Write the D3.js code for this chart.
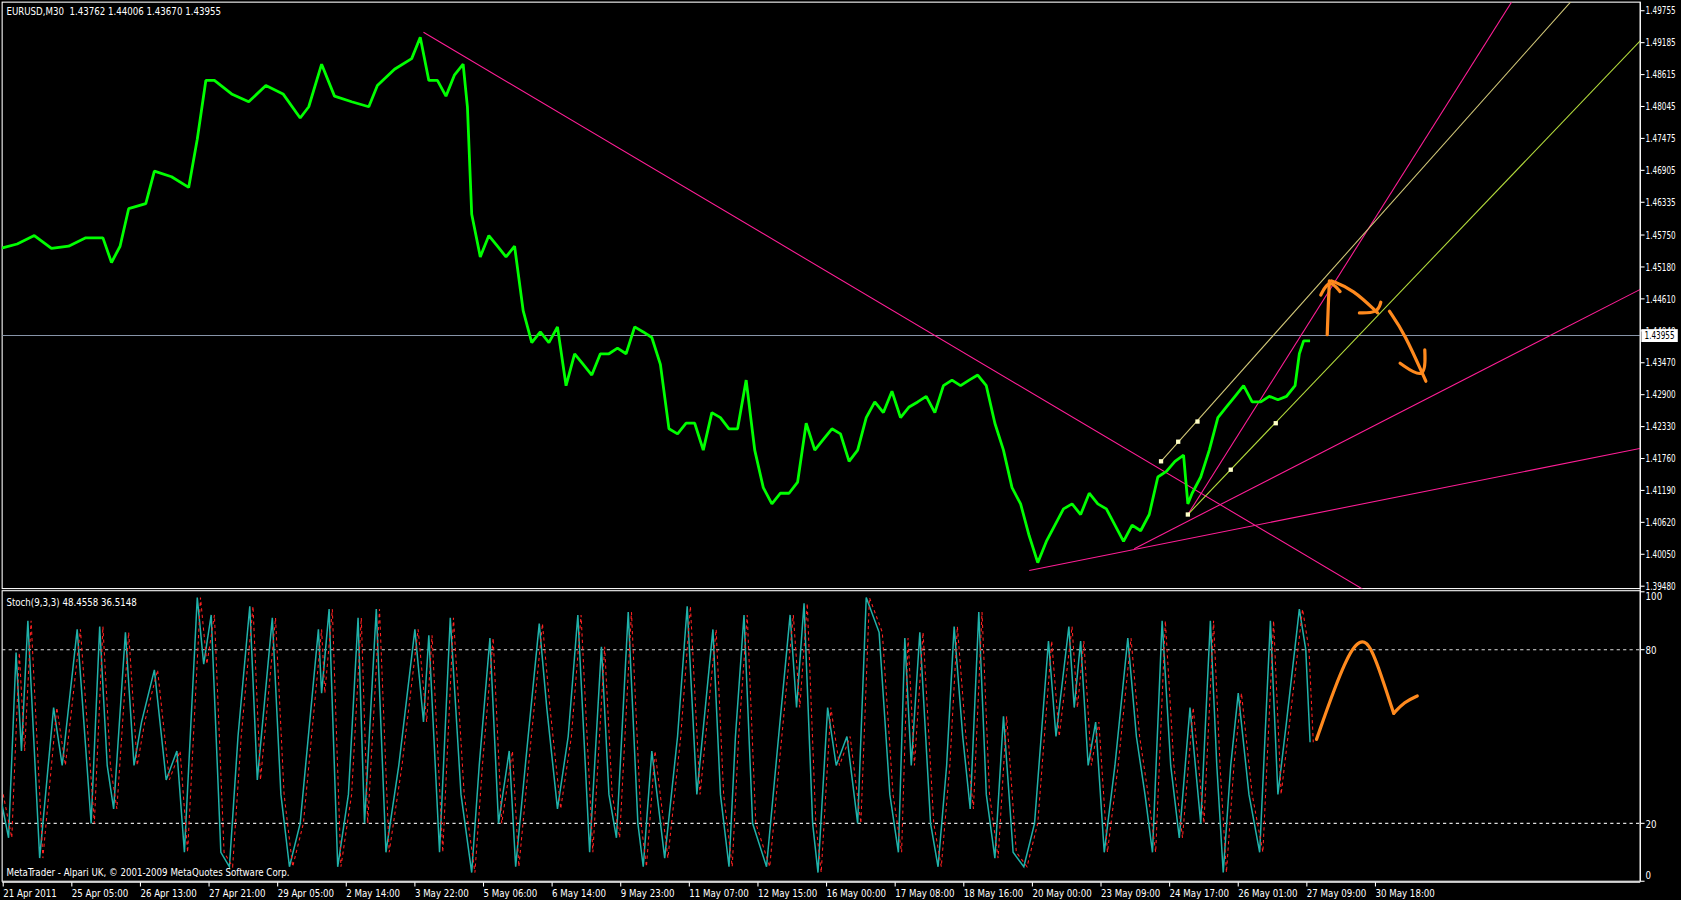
<!DOCTYPE html>
<html><head><meta charset="utf-8">
<script src="https://cdn.jsdelivr.net/npm/d3@7"></script>
<style>html,body{margin:0;background:#000;overflow:hidden}</style>
</head><body>
<svg id="c" width="1681" height="900" viewBox="0 0 1568 839.5"></svg>
<script>
// ---- data ----
const priceBars = [0,16,32,48,64,80,96,104,112,120,136,144,160,176,184,192,200,216,232,248,264,280,288,300,312,328,344,352,368,384,392,400,408,416,424,432,436,440,448,456,464,472,480,488,496,504,512,520,528,536,544,552,560,568,576,584,592,600,608,616,624,632,640,648,656,664,672,680,688,696,704,712,720,728,736,744,752,760,768,776,784,792,800,808,816,824,832,840,848,856,864,872,880,888,896,904,912,920,928,936,944,952,960,968,976,984,992,1000,1008,1016,1024,1032,1040,1048,1056,1064,1072,1080,1088,1096,1104,1108,1112,1120,1128,1136,1144,1152,1160,1168,1176,1184,1192,1200,1208,1212,1216,1222];
const priceClose = [1.4551,1.4559,1.4574,1.4551,1.4555,1.4570,1.4570,1.4526,1.4555,1.4622,1.4631,1.4689,1.4679,1.4660,1.4746,1.4851,1.4851,1.4827,1.4813,1.4842,1.4827,1.4784,1.4804,1.4880,1.4823,1.4813,1.4804,1.4842,1.4871,1.4890,1.4928,1.4851,1.4851,1.4823,1.4861,1.4880,1.4804,1.4612,1.4536,1.4574,1.4555,1.4536,1.4555,1.4440,1.4383,1.4402,1.4383,1.4411,1.4306,1.4363,1.4344,1.4325,1.4363,1.4363,1.4373,1.4363,1.4411,1.4402,1.4392,1.4344,1.4229,1.4220,1.4239,1.4239,1.4191,1.4258,1.4249,1.4229,1.4229,1.4316,1.4191,1.4124,1.4095,1.4114,1.4114,1.4134,1.4239,1.4191,1.4210,1.4229,1.4220,1.4171,1.4191,1.4249,1.4277,1.4258,1.4296,1.4249,1.4268,1.4277,1.4287,1.4258,1.4306,1.4316,1.4306,1.4316,1.4325,1.4306,1.4239,1.4191,1.4124,1.4095,1.4038,1.3990,1.4028,1.4057,1.4086,1.4095,1.4076,1.4114,1.4095,1.4086,1.4057,1.4028,1.4057,1.4047,1.4076,1.4143,1.4153,1.4171,1.4182,1.4095,1.4114,1.4143,1.4191,1.4249,1.4268,1.4287,1.4306,1.4277,1.4277,1.4287,1.4281,1.4287,1.4306,1.4363,1.4386,1.4386];
const priceTicks = [1.49755,1.49185,1.48615,1.48045,1.47475,1.46905,1.46335,1.45750,1.45180,1.44610,1.44040,1.43470,1.42900,1.42330,1.41760,1.41190,1.40620,1.40050,1.39480];
const lastPrice = 1.43955;
const stochPts = [[0,30],[8,15],[15,79],[20,45],[26,90],[37,8],[50,60],[58,40],[72,87],[85,20],[93,88],[100,40],[106,25],[117,86],[125,40],[132,55],[144,73],[155,35],[165,45],[172,10],[184,98],[190,75],[197,92],[206,10],[214,5],[222,50],[233,95],[240,35],[254,91],[262,30],[270,5],[280,20],[297,87],[300,65],[307,94],[315,5],[325,30],[334,91],[340,20],[351,94],[360,10],[372,40],[387,87],[395,55],[400,85],[410,10],[420,91],[430,30],[440,3],[447,40],[457,84],[465,20],[475,45],[481,5],[490,40],[503,89],[510,60],[520,25],[530,50],[539,92],[550,10],[561,81],[568,30],[575,15],[586,93],[595,20],[600,5],[608,45],[620,8],[632,50],[641,95],[650,30],[665,87],[672,30],[680,5],[686,50],[694,92],[702,20],[715,5],[725,45],[737,92],[743,60],[750,96],[758,20],[763,3],[772,60],[780,40],[790,50],[800,20],[808,98],[820,86],[830,30],[838,10],[844,84],[850,40],[858,86],[868,20],[875,5],[883,40],[890,88],[898,50],[905,25],[913,93],[920,30],[928,8],[936,57],[945,10],[955,5],[965,20],[978,83],[985,50],[997,88],[1002,60],[1008,83],[1015,40],[1022,55],[1030,10],[1040,40],[1052,84],[1060,50],[1068,30],[1075,10],[1084,90],[1092,40],[1100,15],[1110,60],[1120,20],[1129,90],[1135,40],[1141,3],[1148,40],[1155,65],[1165,30],[1175,10],[1185,90],[1192,30],[1200,55],[1212,94],[1218,80],[1222,48]];
const stochTicks = [100,80,20,0];
const timeTicks = ["21 Apr 2011","25 Apr 05:00","26 Apr 13:00","27 Apr 21:00","29 Apr 05:00","2 May 14:00","3 May 22:00","5 May 06:00","6 May 14:00","9 May 23:00","11 May 07:00","12 May 15:00","16 May 00:00","17 May 08:00","18 May 16:00","20 May 00:00","23 May 09:00","24 May 17:00","26 May 01:00","27 May 09:00","30 May 18:00"];
const pinkLines = [[[395,1.4937],[1270,1.3944]],[[960,1.3976],[1530,1.4194]],[[1058,1.4015],[1530,1.4478]],[[1108,1.4076],[1410,1.4991]]];
const yellowUpper = [[1083,1.4171],[1465,1.4991]];
const yellowLower = [[1108,1.4076],[1530,1.4922]];
const markers = [[1083,1.4171],[1099,1.4206],[1117,1.4242],[1108,1.4076],[1148,1.4156],[1190,1.4239]];
const orangePrice = [
 [[1238,1.4397],[1239,1.4450],[1240,1.4493]],
 [[1232,1.4468],[1240,1.4497],[1250,1.4474]],
 [[1242,1.4493],[1262,1.4478],[1285,1.4436]],
 [[1268,1.4436],[1285,1.4436],[1288,1.4455]],
 [[1296,1.4439],[1310,1.4400],[1330,1.4314]],
 [[1306,1.4346],[1330,1.4314],[1329,1.4370]]];
const orangeStoch = [[[1228,49],[1245,67],[1262,82],[1275,84],[1285,75],[1300,58]],[[1300,58],[1310,62],[1322,64]]];

// ---- drawing (1568x840 design space via viewBox) ----
const svg = d3.select("#c");
const g = svg.append("g");
const font = "'DejaVu Sans Condensed','Liberation Sans Narrow',sans-serif";
const FS = 9;
const L=2, R=1530, mT=2, mB=549, sT=551, sB=822;
const x = d3.scaleLinear().domain([0,1530]).range([0,1530]);
const y = d3.scaleLinear().domain([1.39480,1.49755]).range([546.8,10]);
const ys = d3.scaleLinear().domain([0,100]).range([822,552]);

const defs = g.append("defs");
defs.append("clipPath").attr("id","cm").append("rect").attr("x",L).attr("y",mT).attr("width",R-L).attr("height",mB-mT);
defs.append("clipPath").attr("id","cs").append("rect").attr("x",L).attr("y",sT).attr("width",R-L).attr("height",sB-sT);

g.append("rect").attr("x",L).attr("y",mT).attr("width",R-L).attr("height",mB-mT).attr("fill","none").attr("stroke","#fff");
g.append("rect").attr("x",L).attr("y",sT).attr("width",R-L).attr("height",sB-sT).attr("fill","none").attr("stroke","#fff");

const main = g.append("g").attr("clip-path","url(#cm)");
const sub = g.append("g").attr("clip-path","url(#cs)");

main.append("line").attr("x1",L).attr("x2",R).attr("y1",y(lastPrice)).attr("y2",y(lastPrice)).attr("stroke","#8794a8");

const ln = d3.line().x(d=>x(d[0])).y(d=>y(d[1]));
const ext = (p)=>{const [a,b]=p;const s=(b[1]-a[1])/(b[0]-a[0]);return [a,[1600,a[1]+s*(1600-a[0])]];};
pinkLines.forEach(p=>main.append("path").attr("d",ln(ext(p))).attr("stroke","#ff1e96").attr("fill","none"));
main.append("path").attr("d",ln(ext(yellowUpper))).attr("stroke","#d2c878").attr("fill","none");
main.append("path").attr("d",ln(ext(yellowLower))).attr("stroke","#b4dc3c").attr("fill","none");

main.append("path").datum(priceBars.map((b,i)=>[b,priceClose[i]])).attr("d",ln)
  .attr("stroke","#00ff00").attr("stroke-width",2.6).attr("fill","none").attr("stroke-linejoin","bevel");
main.selectAll(".mk").data(markers).join("rect").attr("x",d=>x(d[0])-2).attr("y",d=>y(d[1])-2).attr("width",4).attr("height",4).attr("fill","#ffffc8");

const lnP = d3.line().x(d=>x(d[0])).y(d=>y(d[1])).curve(d3.curveBasis);
orangePrice.forEach(p=>main.append("path").attr("d",lnP(p)).attr("stroke","#ff8a1e").attr("stroke-width",3).attr("fill","none").attr("stroke-linecap","round"));

const ax = g.append("g");
ax.append("line").attr("x1",R).attr("x2",R).attr("y1",mT).attr("y2",sB).attr("stroke","#fff");
priceTicks.forEach(t=>{
  ax.append("line").attr("x1",R).attr("x2",R+4).attr("y1",y(t)).attr("y2",y(t)).attr("stroke","#fff");
  ax.append("text").attr("x",R+5).attr("y",y(t)+3.5).text(t.toFixed(5)).attr("fill","#fff").attr("font-size",FS).attr("font-family",font)
    .attr("textLength",28).attr("lengthAdjust","spacingAndGlyphs");
});
ax.append("rect").attr("x",R+1).attr("y",y(lastPrice)-6).attr("width",34).attr("height",12).attr("fill","#fff");
ax.append("text").attr("x",R+4).attr("y",y(lastPrice)+3.5).text(lastPrice.toFixed(5)).attr("fill","#000").attr("font-size",FS).attr("font-family",font)
  .attr("textLength",28).attr("lengthAdjust","spacingAndGlyphs");

[80,20].forEach(v=>sub.append("line").attr("x1",L).attr("x2",R).attr("y1",ys(v)).attr("y2",ys(v)).attr("stroke","#ddd").attr("stroke-dasharray","3,3"));
const lnS = d3.line().x(d=>x(d[0])).y(d=>ys(d[1]));
sub.append("path").attr("d",lnS(stochPts)).attr("stroke","#20b2aa").attr("fill","none").attr("stroke-width",1.4);
sub.append("path").attr("d",lnS(stochPts)).attr("transform","translate(3,0)").attr("stroke","#ff2020").attr("fill","none").attr("stroke-dasharray","3,3").attr("stroke-width",1);
const lnSo = d3.line().x(d=>x(d[0])).y(d=>ys(d[1])).curve(d3.curveBasis);
orangeStoch.forEach(p=>sub.append("path").attr("d",lnSo(p)).attr("stroke","#ff8a1e").attr("stroke-width",3).attr("fill","none").attr("stroke-linecap","round"));
stochTicks.forEach(t=>{
  ax.append("line").attr("x1",R).attr("x2",R+4).attr("y1",ys(t)).attr("y2",ys(t)).attr("stroke","#fff");
  ax.append("text").attr("x",R+5).attr("y",ys(t)+(t===100?8:t===0?-2:4)).text(t).attr("fill","#fff").attr("font-size",FS).attr("font-family",font);
});

ax.append("line").attr("x1",L).attr("x2",R).attr("y1",sB+1).attr("y2",sB+1).attr("stroke","#fff");
timeTicks.forEach((t,i)=>{
  const xx = x(3+i*64);
  ax.append("line").attr("x1",xx).attr("x2",xx).attr("y1",sB+1).attr("y2",sB+5).attr("stroke","#fff");
  ax.append("text").attr("x",xx).attr("y",sB+15).text(t).attr("fill","#fff").attr("font-size",FS).attr("font-family",font);
});

g.append("text").attr("x",6).attr("y",14).text("EURUSD,M30  1.43762 1.44006 1.43670 1.43955").attr("fill","#fff").attr("font-size",FS).attr("font-family",font).attr("xml:space","preserve");
g.append("text").attr("x",6).attr("y",565).text("Stoch(9,3,3) 48.4558 36.5148").attr("fill","#fff").attr("font-size",FS).attr("font-family",font);
g.append("text").attr("x",6).attr("y",817).text("MetaTrader - Alpari UK, © 2001-2009 MetaQuotes Software Corp.").attr("fill","#fff").attr("font-size",FS).attr("font-family",font);
</script>
</body></html>
